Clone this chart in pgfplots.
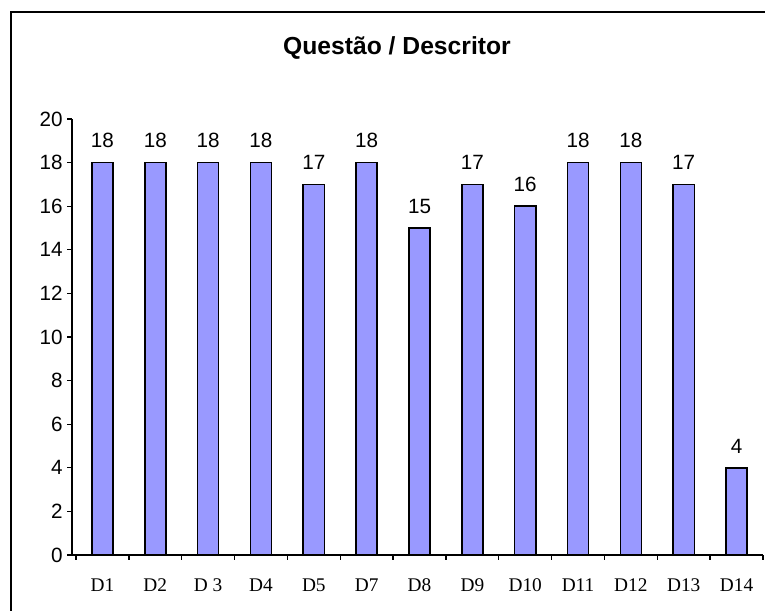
\documentclass[border=0pt]{standalone}
\usepackage{pgfplots}
\pgfplotsset{compat=1.18}
\usepackage{fontspec}
\setmainfont{Liberation Sans}
\newfontfamily\timesf{Liberation Serif}
\definecolor{barblue}{HTML}{9999FF}
\begin{document}
\begin{tikzpicture}
\useasboundingbox (0,0) rectangle (573.75pt,458.25pt);
\fill[white] (0,0) rectangle (573.75pt,458.25pt);
\draw[line width=1.5pt] (8.25pt,0) -- (8.25pt,449.25pt) -- (573.75pt,449.25pt);
\node[font=\fontsize{18.5}{21}\selectfont\bfseries] at (297.75pt,422.25pt) {Questão / Descritor};
\begin{axis}[
  at={(54pt,42pt)}, anchor=south west,
  scale only axis,
  width=518.25pt, height=327pt,
  xmin=-0.576, xmax=12.5,
  ymin=0, ymax=20,
  axis x line*=bottom, axis y line*=left,
  axis line style={line width=1pt, -},
  ytick={0,2,...,20},
  xtick={-0.5,0.5,...,12.5},
  x tick label as interval,
  xticklabels={D1,D2,D 3,D4,D5,D7,D8,D9,D10,D11,D12,D13,D14},
  tick align=outside,
  major tick length=3.5pt,
  tick style={line width=1pt, black},
  /pgf/number format/assume math mode=true,
  yticklabel style={font=\fontsize{15.5}{16}\selectfont},
  xticklabel style={font=\timesf\fontsize{14.5}{15}\selectfont, anchor=base, yshift=-24pt},
  ybar, bar width=0.4,
  nodes near coords,
  nodes near coords style={font=\fontsize{15.5}{16}\selectfont, anchor=base, yshift=11pt},
  clip=false,
]
\addplot[fill=barblue, draw=black, line width=1.2pt] coordinates {
(0,18) (1,18) (2,18) (3,18) (4,17) (5,18) (6,15) (7,17) (8,16) (9,18) (10,18) (11,17) (12,4)
};
\end{axis}
\end{tikzpicture}
\end{document}
